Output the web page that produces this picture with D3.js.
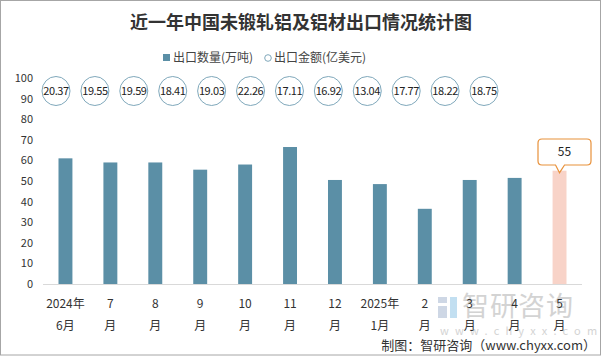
<!DOCTYPE html>
<html><head><meta charset="utf-8">
<script src="https://cdn.jsdelivr.net/npm/d3@7"></script>
<style>body{margin:0;background:#fff}svg{display:block}</style>
</head><body>
<svg id="c" width="602" height="356"></svg>
<script>
const categories = ["2024年|6月","7|月","8|月","9|月","10|月","11|月","12|月","2025年|1月","2|月","3|月","4|月","5|月"];
const volume = [61, 59, 59, 55.5, 58, 66.5, 50.5, 48.5, 36.5, 50.5, 51.5, 55];
const amount = ["20.37","19.55","19.59","18.41","19.03","22.26","17.11","16.92","13.04","17.77","18.22","18.75"];
const yTicks = [0,10,20,30,40,50,60,70,80,90,100];
const title = "近一年中国未锻轧铝及铝材出口情况统计图";
const legendLabels = ["出口数量(万吨)","出口金额(亿美元)"];
const calloutLabel = "55";

const svg = d3.select("#c");
const font = "'Noto Sans CJK SC', 'Noto Sans', sans-serif";
svg.append("rect").attr("x",0.5).attr("y",0.5).attr("width",600).attr("height",354.5)
  .attr("fill","#fff").attr("stroke","#a6a6a6");

// watermark
const wm = svg.append("g").attr("opacity",0.9);
wm.append("rect").attr("x",438).attr("y",297).attr("width",9).attr("height",6).attr("fill","#c9d3e3");
wm.append("rect").attr("x",438).attr("y",306).attr("width",9).attr("height",12).attr("fill","#c9d3e3");
wm.append("rect").attr("x",450).attr("y",297).attr("width",7).attr("height",21).attr("fill","#bcdcf0");
wm.append("text").attr("x",462).attr("y",316).attr("font-family",font).attr("font-size",27)
  .attr("fill","#cfcfcf").attr("letter-spacing",1).text("智研咨询");
wm.append("text").attr("x",440).attr("y",335).attr("font-family",font).attr("font-size",11)
  .attr("fill","#cfcfcf").attr("letter-spacing",6.2).text("www.chyxx.com");

const x = d3.scaleBand().domain(categories).range([43,582]).paddingInner(0.69).paddingOuter(0.345);
const y = d3.scaleLinear().domain([0,100]).range([284,78]);
const xc = d3.scalePoint().domain(categories).range([56,484]);

// title
svg.append("text").attr("x",301).attr("y",29).attr("text-anchor","middle")
  .attr("font-family",font).attr("font-size",18).attr("font-weight","bold").attr("fill","#333").text(title);

// legend
svg.append("rect").attr("x",163).attr("y",54).attr("width",7).attr("height",7).attr("fill","#5b8fa6");
svg.append("text").attr("x",173).attr("y",62).attr("font-family",font).attr("font-size",12).attr("fill","#444").text(legendLabels[0]);
svg.append("circle").attr("cx",268).attr("cy",58).attr("r",3.3).attr("fill","none").attr("stroke","#7fa8bb");
svg.append("text").attr("x",274).attr("y",62).attr("font-family",font).attr("font-size",12).attr("fill","#444").text(legendLabels[1]);

// y axis
const yAxis = svg.append("g").attr("transform","translate(33,0)")
  .call(d3.axisLeft(y).tickValues(yTicks).tickSize(0).tickPadding(0));
yAxis.select(".domain").remove();
yAxis.selectAll("text").attr("font-family",font).attr("font-size",11).attr("fill","#333");

// bars
svg.selectAll(".bar").data(volume).join("rect")
  .attr("x",(d,i)=>x(categories[i])).attr("width",x.bandwidth())
  .attr("y",d=>y(d)).attr("height",d=>y(0)-y(d))
  .attr("fill",(d,i)=> i===volume.length-1 ? "#f8d3c8" : "#5b8fa6");

// baseline
svg.append("line").attr("x1",43).attr("x2",582).attr("y1",284.5).attr("y2",284.5).attr("stroke","#d9d9d9");

// x labels
const xl = svg.append("g");
categories.forEach(c=>{
  const parts = c.split("|");
  const cx = x(c)+x.bandwidth()/2;
  const t = xl.append("text").attr("x",cx).attr("text-anchor","middle")
    .attr("font-family",font).attr("font-size",12).attr("fill","#333");
  t.append("tspan").attr("x",cx).attr("y",308).text(parts[0]);
  t.append("tspan").attr("x",cx).attr("y",330).text(parts[1]);
});

// amount circles
const cg = svg.selectAll(".amt").data(amount).join("g")
  .attr("transform",(d,i)=>`translate(${xc(categories[i])},91)`);
cg.append("ellipse").attr("rx",14).attr("ry",14.5).attr("fill","#fff").attr("stroke","#7fa8bb").attr("stroke-width",1);
cg.append("text").attr("text-anchor","middle").attr("y",4).attr("font-family",font)
  .attr("font-size",11).attr("fill","#222").attr("letter-spacing",-0.4).text(d=>d);

// callout
const li = volume.length-1;
const bx = x(categories[li])+x.bandwidth()/2;
const by = y(volume[li]);
const r0 = 538, r1 = 591, t0 = 139, t1 = 165, rr = 4;
const p = `M${r0+rr},${t0} H${r1-rr} Q${r1},${t0} ${r1},${t0+rr} V${t1-rr} Q${r1},${t1} ${r1-rr},${t1} H${bx+5} L${bx},${by+2} L${bx-4},${t1} H${r0+rr} Q${r0},${t1} ${r0},${t1-rr} V${t0+rr} Q${r0},${t0} ${r0+rr},${t0} Z`;
svg.append("path").attr("d",p).attr("fill","#fff").attr("stroke","#e8913a").attr("stroke-width",1.2);
svg.append("text").attr("x",(r0+r1)/2).attr("y",156).attr("text-anchor","middle").attr("font-family",font)
  .attr("font-size",12).attr("fill","#222").text(calloutLabel);

// footer
svg.append("text").attr("x",596).attr("y",350).attr("text-anchor","end").attr("font-family","'Noto Sans CJK SC', sans-serif")
  .attr("font-size",13).attr("fill","#333").text("制图：智研咨询（www.chyxx.com）");
</script>
</body></html>
